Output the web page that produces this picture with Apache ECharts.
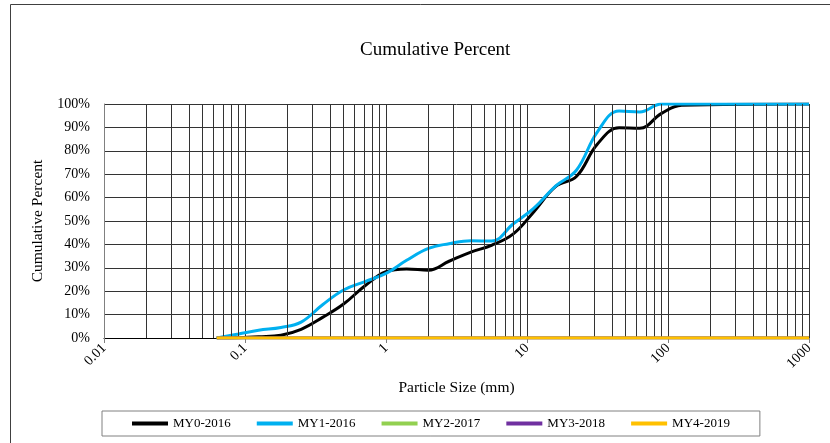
<!DOCTYPE html>
<html>
<head>
<meta charset="utf-8">
<script src="https://cdn.jsdelivr.net/npm/echarts@6/dist/echarts.min.js"></script>
<style>
  html, body { margin: 0; padding: 0; background: #fff; }
  #chart { width: 830px; height: 443px; }
</style>
</head>
<body>
<div id="chart"></div>
<script>
// sieve sizes (mm) and cumulative percent passing
const sizes = [0.063, 0.09, 0.125, 0.18, 0.25, 0.355, 0.5, 0.71, 1, 1.4, 2, 2.8, 4, 5.6, 8, 11.2, 16, 22.4, 31.5, 45, 63, 90, 125, 1000]
const my0 = [0, 0.1, 0.5, 1.2, 3.7, 8.8, 14.5, 22.3, 28.3, 29.5, 29.0, 32.8, 36.7, 39.6, 44.5, 54, 64.8, 69, 82.8, 89.8, 89.6, 96, 99.5, 100]
const my1 = [0, 1.7, 3.3, 4.5, 6.8, 14.2, 20.5, 24.1, 27.6, 33.2, 38.3, 40.3, 41.6, 41.4, 48.8, 55.5, 65, 71.7, 88, 97, 96.6, 100, 100, 100]
const my2 = [0, 0, 0, 0, 0, 0, 0, 0, 0, 0, 0, 0, 0, 0, 0, 0, 0, 0, 0, 0, 0, 0, 0, 0]
const my3 = [0, 0, 0, 0, 0, 0, 0, 0, 0, 0, 0, 0, 0, 0, 0, 0, 0, 0, 0, 0, 0, 0, 0, 0]
const my4 = [0, 0, 0, 0, 0, 0, 0, 0, 0, 0, 0, 0, 0, 0, 0, 0, 0, 0, 0, 0, 0, 0, 0, 0]

const seriesNames = ['MY0-2016', 'MY1-2016', 'MY2-2017', 'MY3-2018', 'MY4-2019']
const seriesColors = ['#000000', '#00B0F0', '#92D050', '#7030A0', '#FFC000']
const seriesData = [my0, my1, my2, my3, my4]

// minor log grid lines: 2..9 of every decade
const minorGrid = []
for (let d = 0.01; d < 1000; d *= 10) {
  for (let k = 2; k <= 9; k++) {
    minorGrid.push(+(d * k).toPrecision(3))
  }
}

const font = 'Liberation Serif'
const gridColor = '#333333'

const chart = echarts.init(document.getElementById('chart'))

const series = seriesNames.map((name, i) => ({
  name: name,
  type: 'line',
  smooth: 0.4,
  symbol: 'none',
  z: 3 + i,
  lineStyle: { width: 3, color: seriesColors[i] },
  itemStyle: { color: seriesColors[i] },
  data: sizes.map((s, j) => [s, seriesData[i][j]])
}))

series.unshift({
  type: 'line',
  data: [],
  silent: true,
  z: 1,
  markLine: {
    silent: true,
    symbol: ['none', 'none'],
    animation: false,
    label: { show: false },
    lineStyle: { color: gridColor, width: 1, type: 'solid' },
    emphasis: { disabled: true },
    data: minorGrid.map(v => ({ xAxis: v }))
  }
})

chart.setOption({
  animation: false,
  backgroundColor: '#fff',
  graphic: [{
    type: 'rect',
    shape: { x: 10.5, y: 4.5, width: 900, height: 600 },
    style: { fill: 'none', stroke: '#404040', lineWidth: 1 },
    silent: true
  }],
  title: {
    text: 'Cumulative Percent',
    left: 355,
    top: 36,
    textStyle: { fontFamily: font, fontSize: 19, fontWeight: 'normal', color: '#000' }
  },
  legend: {
    data: seriesNames,
    left: 102,
    top: 411,
    icon: 'rect',
    itemWidth: 36,
    itemHeight: 4,
    itemGap: 26,
    padding: [6, 30],
    borderColor: '#808080',
    borderWidth: 1,
    textStyle: { fontFamily: font, fontSize: 13, color: '#000' }
  },
  grid: { left: 104, right: 21, top: 104, bottom: 105 },
  xAxis: {
    type: 'log',
    logBase: 10,
    min: 0.01,
    max: 1000,
    name: 'Particle Size (mm)',
    nameLocation: 'middle',
    nameGap: 42,
    nameTextStyle: { fontFamily: font, fontSize: 15.5, color: '#000' },
    axisLine: { lineStyle: { color: '#000', width: 1 } },
    axisTick: { show: true, length: 5, lineStyle: { color: '#808080' } },
    axisLabel: {
      rotate: 45,
      margin: 8,
      fontFamily: font,
      fontSize: 14,
      color: '#000',
      formatter: v => String(+v.toPrecision(3))
    },
    splitLine: { show: true, lineStyle: { color: gridColor, width: 1 } }
  },
  yAxis: {
    type: 'value',
    min: 0,
    max: 100,
    interval: 10,
    name: 'Cumulative Percent',
    nameLocation: 'middle',
    nameGap: 58,
    nameTextStyle: { fontFamily: font, fontSize: 15.5, color: '#000' },
    axisLine: { show: true, lineStyle: { color: '#808080' } },
    axisTick: { show: false },
    axisLabel: { margin: 14, fontFamily: font, fontSize: 14, color: '#000', formatter: '{value}%' },
    splitLine: { show: true, lineStyle: { color: gridColor, width: 1 } }
  },
  series: series
})
</script>
</body>
</html>
